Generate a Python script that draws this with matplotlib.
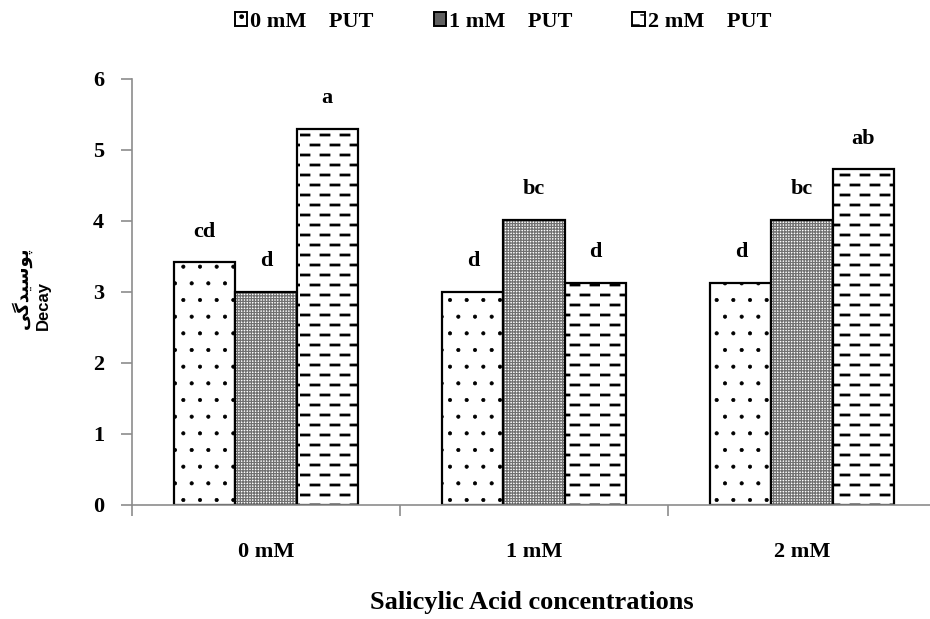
import numpy as np
import matplotlib
matplotlib.use('Agg')
from matplotlib import pyplot as plt
import matplotlib.hatch as mhatch
from matplotlib.path import Path
from matplotlib.patches import Patch

# data
groups = ['0 mM', '1 mM', '2 mM']
series = ['0 mM    PUT', '1 mM    PUT', '2 mM    PUT']
put0 = [3.42, 3.00, 3.13]
put1 = [3.00, 4.02, 4.02]
put2 = [5.30, 3.13, 4.73]
letters0 = ['cd', 'd', 'd']
letters1 = ['d', 'bc', 'bc']
letters2 = ['a', 'd', 'ab']


class DashHatch(mhatch.HatchPatternBase):
    """'-' gives staggered short dashes, '+' keeps the plain horizontal lines"""
    def __init__(self, hatch, density):
        self.num_lines = int(hatch.count('+') * density)
        self.num_rows = hatch.count('-') * 10
        self.num_dashes = 5
        self.num_vertices = 2 * self.num_lines + 2 * self.num_rows * self.num_dashes

    def set_vertices_and_codes(self, vertices, codes):
        k = 0
        if self.num_lines:
            steps, step = np.linspace(0.0, 1.0, self.num_lines, False, retstep=True)
            steps += step / 2.
            for s in steps:
                vertices[k] = (0.0, s)
                vertices[k + 1] = (1.0, s)
                codes[k] = Path.MOVETO
                codes[k + 1] = Path.LINETO
                k += 2
        if self.num_rows:
            period = 1.0 / self.num_dashes
            length = 0.4 * period
            for r in range(self.num_rows):
                y = (r + 0.5) / self.num_rows
                shift = 0.25 if r % 2 == 0 else 0.75
                for j in range(self.num_dashes):
                    xc = (j + shift) * period
                    vertices[k] = (xc - length / 2, y)
                    vertices[k + 1] = (xc + length / 2, y)
                    codes[k] = Path.MOVETO
                    codes[k + 1] = Path.LINETO
                    k += 2


mhatch._hatch_types = [DashHatch if t is mhatch.HorizontalHatch else t
                       for t in mhatch._hatch_types]

serif = 'Liberation Serif'
axis_grey = '#8c8c8c'

fig = plt.figure(figsize=(9.3, 6.19), dpi=100)
ax = fig.add_axes([0.1419, 0.1842, 0.8645, 0.6882])

x = np.arange(len(groups))
w = 0.228


def set_hlw(bars, lw):
    for p in bars:
        if hasattr(p, 'set_hatch_linewidth'):
            p.set_hatch_linewidth(lw)


with plt.rc_context({'hatch.linewidth': 0.5}):
    b0 = ax.bar(x - w, put0, w, color='white', edgecolor='black',
                linewidth=1.6, hatch='.')
set_hlw(b0, 0.5)

with plt.rc_context({'hatch.linewidth': 0.9}):
    b1 = ax.bar(x, put1, w, color='white', edgecolor='#707070',
                linewidth=0, hatch='++++++')
set_hlw(b1, 0.9)
ax.bar(x, put1, w, fill=False, edgecolor='black', linewidth=1.6)

with plt.rc_context({'hatch.linewidth': 2.0}):
    b2 = ax.bar(x + w, put2, w, color='white', edgecolor='black',
                linewidth=1.6, hatch='-')
set_hlw(b2, 2.0)

for bars, vals, labs in [(b0, put0, letters0), (b1, put1, letters1), (b2, put2, letters2)]:
    for p, v, t in zip(bars, vals, labs):
        ax.annotate(t, (p.get_x() + p.get_width() / 2, v), xytext=(0, 22),
                    textcoords='offset points', ha='center', va='center',
                    fontsize=16, fontweight='bold', family=serif)

ax.set_xlim(-0.5, 2.5)
ax.set_ylim(0, 6)
ax.set_yticks(range(7))
ax.set_xticks(x)
ax.set_xticklabels(groups)
ax.set_xticks([-0.5, 0.5, 1.5, 2.5], minor=True)
ax.tick_params(axis='x', which='major', length=0, pad=27)
ax.tick_params(axis='x', which='minor', length=8, color=axis_grey, width=1.2)
ax.tick_params(axis='y', length=8, color=axis_grey, width=1.2, pad=12)
for lab in ax.get_xticklabels() + ax.get_yticklabels():
    lab.set_family(serif)
    lab.set_fontweight('bold')
    lab.set_fontsize(16)
for s in ['top', 'right']:
    ax.spines[s].set_visible(False)
for s in ['left', 'bottom']:
    ax.spines[s].set_color(axis_grey)
    ax.spines[s].set_linewidth(1.2)

# legend: second entry drawn as a dark grey square with a black frame
handles = [
    Patch(facecolor='white', edgecolor='black', hatch='.', linewidth=1.4),
    Patch(facecolor='#606060', edgecolor='black', linewidth=1.4),
    Patch(facecolor='white', edgecolor='black', hatch='-', linewidth=1.4),
]
fig.legend(handles, series, loc='center', bbox_to_anchor=(503 / 930, 1 - 22 / 619),
           ncol=3, frameon=False, handlelength=0.55, handleheight=0.55,
           handletextpad=0.15, columnspacing=2.7,
           prop={'family': serif, 'weight': 'bold', 'size': 16})

fig.text(532 / 930, 1 - 603 / 619, 'Salicylic Acid concentrations', ha='center',
         va='center', fontsize=19, fontweight='bold', family=serif)
# Persian label, pre-shaped (presentation forms, visual order)
fig.text(22 / 930, 1 - 288 / 619, '\uFBFD\uFB94\uFEAA\uFBFF\uFEB3\uFEEE\uFB58',
         rotation=90, ha='center', va='center', fontsize=13, fontweight='bold',
         family=['DejaVu Sans'])
fig.text(43 / 930, 1 - 306 / 619, 'Decay', rotation=90, ha='center', va='center',
         fontsize=12, fontweight='bold', family=['Liberation Sans', 'DejaVu Sans'])

fig.savefig('out.png', dpi=100)
